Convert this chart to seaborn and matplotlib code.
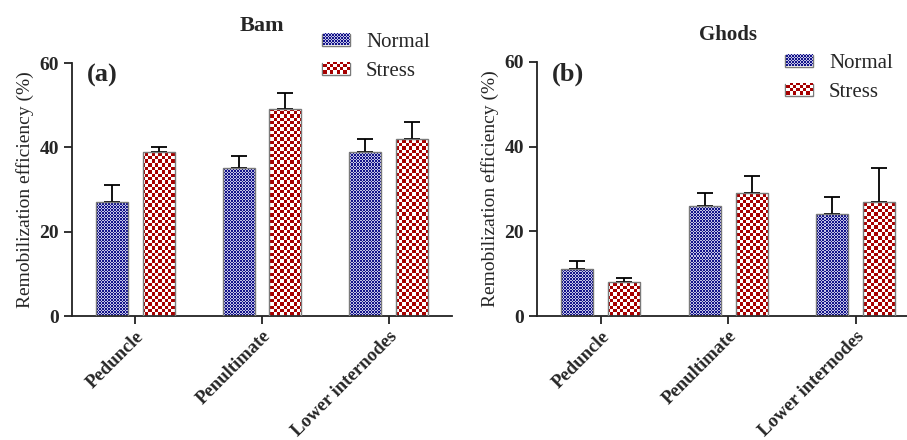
import matplotlib
matplotlib.use('Agg')
import numpy as np
import pandas as pd
import seaborn as sns
from matplotlib import pyplot as plt
from matplotlib.patches import Rectangle

organs = ['Peduncle', 'Penultimate', 'Lower internodes']
groups = ['Normal', 'Stress']

bam_normal = [27, 35, 39]
bam_stress = [39, 49, 42]
bam_normal_err = [4, 3, 3]
bam_stress_err = [1, 4, 4]

ghods_normal = [11, 26, 24]
ghods_stress = [8, 29, 27]
ghods_normal_err = [2, 3, 4]
ghods_stress_err = [1, 4, 8]

colors = {'Normal': '#14148a', 'Stress': '#a60000'}
light = {'Normal': '#c4c4e6', 'Stress': '#ffffff'}
cell_px = {'Normal': 1.5, 'Stress': 3.3}
edge_grey = '#7a7a7a'

sns.set_style('ticks')
plt.rcParams['font.family'] = ['Liberation Serif', 'DejaVu Serif']


def checker(group, w, h):
    """Pixel checkerboard for one group."""
    dark = np.array(matplotlib.colors.to_rgb(colors[group]))
    pale = np.array(matplotlib.colors.to_rgb(light[group]))
    cell = cell_px[group]
    yy, xx = np.indices((h, w))
    mask = ((np.floor(xx / cell) + np.floor(yy / cell)) % 2) == 0
    img = np.empty((h, w, 3))
    img[:] = pale
    img[mask] = dark
    return img


def make_df(normal, stress):
    rows = []
    for organ, n, s in zip(organs, normal, stress):
        rows.append({'organ': organ, 'group': 'Normal', 'value': n})
        rows.append({'organ': organ, 'group': 'Stress', 'value': s})
    return pd.DataFrame(rows)


def draw_panel(ax, normal, stress, normal_err, stress_err, title, tag, title_size, title_pad):
    df = make_df(normal, stress)
    sns.barplot(data=df, x='organ', y='value', hue='group', palette=colors,
                width=0.74, gap=0.32, errorbar=None, edgecolor=edge_grey,
                linewidth=1.0, legend=False, ax=ax)
    ax.set_xlim(-0.5, 2.5)
    ax.set_ylim(0, 60)
    ax.set_yticks([0, 20, 40, 60])

    bbox = ax.get_window_extent()
    w, h = int(round(bbox.width)), int(round(bbox.height))
    errs = {'Normal': normal_err, 'Stress': stress_err}
    vals = {'Normal': normal, 'Stress': stress}
    for container, group in zip(ax.containers, groups):
        img = checker(group, w, h)
        xs = []
        for patch in container:
            patch.set_facecolor('none')
            patch.set_zorder(3)
            im = ax.imshow(img, extent=(-0.5, 2.5, 0, 60), origin='lower',
                           interpolation='nearest', aspect='auto', zorder=2)
            im.set_clip_path(patch)
            xs.append(patch.get_x() + patch.get_width() / 2)
        ax.errorbar(xs, vals[group], yerr=[np.zeros(3), errs[group]], fmt='none',
                    ecolor='black', elinewidth=1.3, capsize=5.5, capthick=1.3, zorder=1)
    ax.set_xlim(-0.5, 2.5)
    ax.set_ylim(0, 60)

    sns.despine(ax=ax)
    for side in ['left', 'bottom']:
        ax.spines[side].set_linewidth(1.3)
        ax.spines[side].set_color('#222222')
    ax.tick_params(axis='both', direction='out', length=6, width=1.3, color='#222222')
    ax.tick_params(axis='x', pad=2.5)
    ax.set_xlabel('')
    ax.set_ylabel('Remobilization efficiency (%)', fontsize=14)
    for lab in ax.get_yticklabels():
        lab.set_fontweight('bold')
        lab.set_fontsize(14)
    ax.set_xticks(range(3))
    ax.set_xticklabels(organs, rotation=45, ha='right', rotation_mode='anchor',
                       fontweight='bold', fontsize=13.5)
    ax.set_title(title, fontweight='bold', fontsize=title_size, pad=title_pad)
    ax.text(0.04, 0.95, tag, transform=ax.transAxes, fontsize=19,
            fontweight='bold', va='center', ha='left')


fig = plt.figure(figsize=(9.07, 4.40), dpi=100)
ax1 = fig.add_axes([72 / 907, 124 / 440, 380 / 907, 253 / 440])
ax2 = fig.add_axes([537 / 907, 124 / 440, 382.5 / 907, 254 / 440])

draw_panel(ax1, bam_normal, bam_stress, bam_normal_err, bam_stress_err,
           'Bam', '(a)', 16, 23)
draw_panel(ax2, ghods_normal, ghods_stress, ghods_normal_err, ghods_stress_err,
           'Ghods', '(b)', 15, 16)

legends = []
for ax, anchor in [(ax1, (318 / 907, 1 - 29 / 440)), (ax2, (781 / 907, 1 - 50 / 440))]:
    handles = [Rectangle((0, 0), 1, 1, facecolor='none', edgecolor=edge_grey, linewidth=1.0)
               for _ in groups]
    leg = ax.legend(handles, groups, loc='upper left', bbox_to_anchor=anchor,
                    bbox_transform=fig.transFigure, frameon=False, fontsize=15,
                    handlelength=1.35, handleheight=0.55, handletextpad=0.75,
                    labelspacing=0.48, borderpad=0.2, borderaxespad=0)
    legends.append(leg)

fig.canvas.draw()
renderer = fig.canvas.get_renderer()
for leg in legends:
    for patch, group in zip(leg.get_patches(), groups):
        pb = patch.get_window_extent(renderer)
        w, h = int(round(pb.width)) - 1, int(round(pb.height)) - 1
        fig.figimage(checker(group, w, h),
                     xo=int(round(pb.x0)) + 1, yo=int(round(pb.y0)) + 1,
                     origin='lower', zorder=10)

fig.savefig('out.png', dpi=100)
